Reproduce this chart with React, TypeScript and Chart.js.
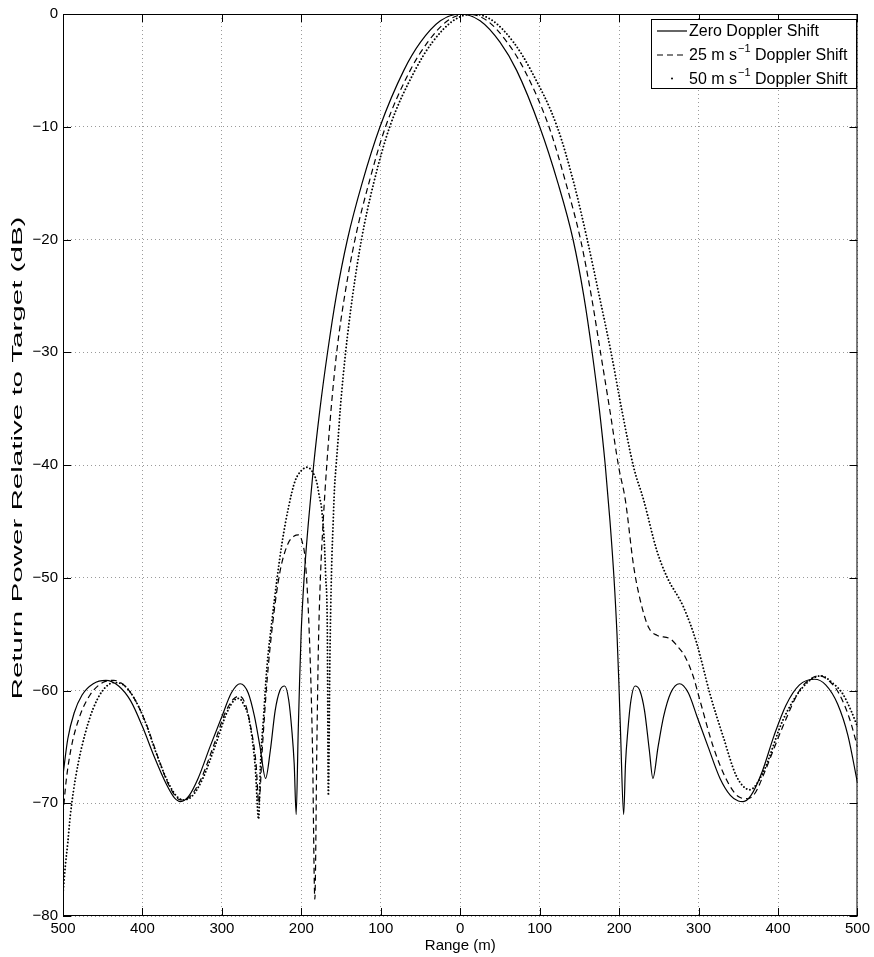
import React, { useEffect, useRef } from 'react';
import { Chart, registerables } from 'chart.js';

Chart.register(...registerables);

// ---------- data ----------
const xTicks = [-500, -400, -300, -200, -100, 0, 100, 200, 300, 400, 500];
const yTicks = [0, -10, -20, -30, -40, -50, -60, -70, -80];

const legendLabels = ['Zero Doppler Shift', '25 m s', '50 m s'];

// Zero Doppler shift (solid)
const zeroRange = [
  -500, -494, -486, -476, -462, -446, -430, -415, -400, -385, -370, -360, -352, -342, -330, -315, -300, -288,
  -277, -267, -259, -252, -245, -239, -233, -227, -221, -216, -212, -209, -206.5, -204, -202.3, -200.3, -196.5,
  -191, -184.5, -176.5, -167, -156, -142, -123.5, -101, -71, -50, -25, 0, 25, 50, 71, 100, 123, 142, 155.5,
  166, 175, 182.5, 188.5, 193.5, 197.3, 199.7, 201.8, 205.7, 208, 211, 215, 220, 226, 232, 238, 242.5, 249, 256,
  265, 276, 287, 298, 312, 327, 340, 350, 356, 366, 380, 395, 410, 427, 446, 460, 475, 488, 500,
];
const zeroPower = [
  -67.5, -64.3, -62, -60.4, -59.4, -59.1, -59.6, -60.9, -63.2, -65.9, -68.3, -69.5, -69.85, -69.4, -67.8, -65,
  -62.3, -60.2, -59.4, -60.2, -62.3, -65, -67.8, -65.3, -61.8, -60, -59.6, -60.8, -63.5, -66.5, -71, -63.8,
  -59.4, -55, -50, -45, -40, -35, -30, -25, -20, -15, -10, -5, -2.5, -0.6, 0, -0.6, -2.5, -5, -10, -15, -20,
  -25, -30, -35, -40, -45, -50, -55, -59.4, -63.8, -71, -66.5, -63.5, -60.8, -59.6, -60, -61.8, -65.3, -67.8,
  -65, -62.3, -60.2, -59.4, -60.2, -62.3, -65, -67.8, -69.3, -69.8, -69.85, -69.3, -67.2, -64, -61.3, -59.5,
  -59, -59.5, -61.2, -64, -68.2,
];

// 25 m/s Doppler shift (dashed)
const dop25Range = [
  -500, -496, -490, -480, -466, -450, -436, -422, -408, -394, -380, -366, -352, -340, -326, -310, -296, -286,
  -278, -270, -263, -257, -253.5, -249, -243, -236, -227, -217, -209, -203.6, -199, -195, -190, -186, -183,
  -180.5, -178.5, -176, -172.5, -168, -162.5, -155.5, -145.5, -132.5, -115, -94, -63, -41, -16, 9, 34, 59, 81,
  111.7, 133, 151.4, 165, 176.5, 188, 199.5, 207.8, 218.3, 226.6, 237, 247.5, 264, 272.5, 283, 293.5, 301.8,
  318.5, 335, 350, 362, 372, 381, 406, 427, 440, 452, 465, 477, 490, 500,
];
const dop25Power = [
  -71, -68, -65.2, -62.5, -60.4, -59.3, -59.1, -59.6, -61, -63.2, -66, -68.5, -69.7, -69.4, -67.8, -64.8, -62,
  -60.8, -60.5, -61.3, -63.5, -66.5, -70, -65, -59, -54, -49.5, -47, -46.3, -46.2, -46.8, -48.5, -55, -65,
  -78.5, -65, -56, -50, -45, -40, -35, -30, -25, -20, -15, -10, -5, -2.5, -0.6, 0, -0.6, -2.5, -5, -10, -15,
  -20, -25, -30, -35, -40.2, -43.1, -49, -52, -54.4, -55.1, -55.4, -56, -57, -58.8, -60.9, -65, -67.9, -69.4,
  -69.6, -69, -67.6, -63.2, -60, -59, -58.7, -59.2, -60.3, -62.5, -65,
];

// 50 m/s Doppler shift (dotted)
const dop50Range = [
  -500, -497, -494, -491, -487, -481, -472, -462, -450, -436, -424, -412, -398, -384, -370, -358, -349, -338,
  -324, -308, -294, -285, -278.8, -272, -266, -258, -253.8, -251.6, -247.5, -243.3, -237, -230.8, -224.5, -216,
  -207.8, -200, -193, -187, -180.7, -177.3, -174.4, -171, -169.4, -167.3, -166, -164, -162, -160, -158.3,
  -156.2, -153.5, -151, -144.3, -135.5, -124.3, -109, -88.7, -57, -35, -9, 16, 41, 67, 89, 122, 143, 159.8,
  175, 189.8, 203.6, 218.3, 230.8, 247.5, 260, 281, 297.6, 314.3, 331, 347.7, 364.4, 381, 406.3, 431.3, 454,
  468, 481.5, 492, 500,
];
const dop50Power = [
  -78, -75.5, -73.5, -71.2, -69, -66.5, -63.8, -61.6, -60, -59.3, -59.5, -60.5, -62.5, -65.3, -67.8, -69.3,
  -69.7, -69.4, -67.8, -64.8, -62, -60.9, -60.7, -61.3, -62.5, -66.8, -71.4, -66.8, -62.3, -57.9, -53.8, -50.2,
  -47, -43.7, -41.4, -40.5, -40.2, -40.5, -41.5, -42.8, -43.9, -47, -49.8, -54.7, -69.3, -56.8, -49.4, -45.2,
  -42.1, -40, -37.5, -35, -30, -25, -20, -15, -10, -5, -2.5, -0.6, 0, -0.6, -2.5, -5, -10, -15, -20, -25, -30,
  -35.2, -40.2, -43.1, -47.6, -49.9, -52.6, -55.8, -60.3, -64.1, -67.6, -68.8, -67.3, -62.6, -59.7, -58.7,
  -59.3, -60.3, -61.8, -63.2,
];

const FONT = '"Liberation Sans", Arial, Helvetica, sans-serif';

const toPoints = (xs: number[], ys: number[]) => xs.map((x, i) => ({ x, y: ys[i] }));
const minus = (v: number) => String(v).replace('-', '\u2212');

const framePlugin = {
  id: 'frame',
  afterDraw(chart: any) {
    const { ctx, chartArea } = chart;
    const { left, right, top, bottom } = chartArea;
    const xs = chart.scales.x;
    const ys = chart.scales.y;
    ctx.save();
    // box
    ctx.strokeStyle = '#000';
    ctx.lineWidth = 1;
    ctx.setLineDash([]);
    ctx.strokeRect(left + 0.5, top + 0.5, right - left - 1, bottom - top - 1);
    // inward ticks
    ctx.beginPath();
    xTicks.forEach((v) => {
      const p = Math.round(xs.getPixelForValue(v)) + 0.5;
      ctx.moveTo(p, bottom);
      ctx.lineTo(p, bottom - 8);
      ctx.moveTo(p, top);
      ctx.lineTo(p, top + 8);
    });
    yTicks.forEach((v) => {
      const p = Math.round(ys.getPixelForValue(v)) + 0.5;
      ctx.moveTo(left, p);
      ctx.lineTo(left + 8, p);
      ctx.moveTo(right, p);
      ctx.lineTo(right - 8, p);
    });
    ctx.stroke();

    // axis titles
    ctx.fillStyle = '#000';
    ctx.font = `15px ${FONT}`;
    ctx.textAlign = 'center';
    ctx.textBaseline = 'middle';
    ctx.fillText('Range (m)', (left + right) / 2, 946);
    ctx.save();
    ctx.translate(18, 458);
    ctx.rotate(-Math.PI / 2);
    ctx.scale(1.97, 1);
    ctx.fillText('Return Power Relative to Target (dB)', 0, 0);
    ctx.restore();

    // legend
    const bx = 651, by = 19, bw = 205, bh = 69;
    ctx.fillStyle = '#fff';
    ctx.fillRect(bx, by, bw, bh);
    ctx.strokeStyle = '#000';
    ctx.lineWidth = 1;
    ctx.strokeRect(bx + 0.5, by + 0.5, bw, bh);
    const baselines = [36, 60, 83.5];
    const tx = 689;
    ctx.textAlign = 'left';
    ctx.textBaseline = 'alphabetic';
    ctx.fillStyle = '#000';
    // samples
    ctx.lineWidth = 1.2;
    ctx.beginPath();
    ctx.moveTo(657, baselines[0] - 5);
    ctx.lineTo(687, baselines[0] - 5);
    ctx.stroke();
    ctx.setLineDash([6, 4]);
    ctx.beginPath();
    ctx.moveTo(657, baselines[1] - 5);
    ctx.lineTo(687, baselines[1] - 5);
    ctx.stroke();
    ctx.setLineDash([]);
    ctx.beginPath();
    ctx.arc(672, baselines[2] - 5, 1, 0, Math.PI * 2);
    ctx.fill();
    // texts
    ctx.font = `16px ${FONT}`;
    ctx.fillText(legendLabels[0], tx, baselines[0]);
    [1, 2].forEach((i) => {
      ctx.font = `16px ${FONT}`;
      const base = legendLabels[i];
      ctx.fillText(base, tx, baselines[i]);
      const w = ctx.measureText(base).width;
      ctx.font = `11px ${FONT}`;
      ctx.fillText('\u22121', tx + w + 1, baselines[i] - 8);
      const sw = ctx.measureText('\u22121').width;
      ctx.font = `16px ${FONT}`;
      ctx.fillText(' Doppler Shift', tx + w + 1 + sw, baselines[i]);
    });
    ctx.restore();
  },
};

export default function App() {
  const ref = useRef<HTMLCanvasElement>(null);
  useEffect(() => {
    const chart = new Chart(ref.current as HTMLCanvasElement, {
      type: 'line',
      data: {
        datasets: [
          {
            label: 'Zero Doppler Shift',
            data: toPoints(zeroRange, zeroPower),
            borderColor: '#000',
            borderWidth: 1.2,
            pointRadius: 0,
            cubicInterpolationMode: 'monotone',
          },
          {
            label: '25 m s-1 Doppler Shift',
            data: toPoints(dop25Range, dop25Power),
            borderColor: '#000',
            borderWidth: 1.2,
            borderDash: [6, 4],
            pointRadius: 0,
            cubicInterpolationMode: 'monotone',
          },
          {
            label: '50 m s-1 Doppler Shift',
            data: toPoints(dop50Range, dop50Power),
            borderColor: '#000',
            borderWidth: 1.9,
            borderDash: [0.01, 3.4],
            borderCapStyle: 'round',
            pointRadius: 0,
            cubicInterpolationMode: 'monotone',
          },
        ] as any,
      },
      options: {
        animation: false,
        responsive: true,
        maintainAspectRatio: false,
        layout: { padding: { top: 13, right: 13, left: 0, bottom: 0 } },
        plugins: { legend: { display: false }, tooltip: { enabled: false } },
        scales: {
          x: {
            type: 'linear',
            min: -500,
            max: 500,
            afterBuildTicks: (s: any) => {
              s.ticks = xTicks.map((v) => ({ value: v }));
            },
            ticks: {
              callback: (v: any) => String(Math.abs(Number(v))),
              font: { family: FONT, size: 15 },
              color: '#000',
              padding: 4,
              maxRotation: 0,
            },
            grid: { color: '#9a9a9a', lineWidth: 1, drawTicks: false },
            border: { display: false, dash: [1, 3] },
            afterFit: (s: any) => {
              s.height = 41;
            },
          },
          y: {
            type: 'linear',
            min: -80,
            max: 0,
            afterBuildTicks: (s: any) => {
              s.ticks = yTicks.map((v) => ({ value: v }));
            },
            ticks: {
              callback: (v: any) => minus(Number(v)),
              font: { family: FONT, size: 15 },
              color: '#000',
              padding: 5,
            },
            grid: { color: '#9a9a9a', lineWidth: 1, drawTicks: false },
            border: { display: false, dash: [1, 3] },
            afterFit: (s: any) => {
              s.width = 63;
            },
          },
        },
      } as any,
      plugins: [framePlugin],
    });
    return () => chart.destroy();
  }, []);
  return (
    <div style={{ position: 'absolute', left: 0, top: 0, width: 874, height: 957, background: '#fff' }}>
      <canvas ref={ref} />
    </div>
  );
}
